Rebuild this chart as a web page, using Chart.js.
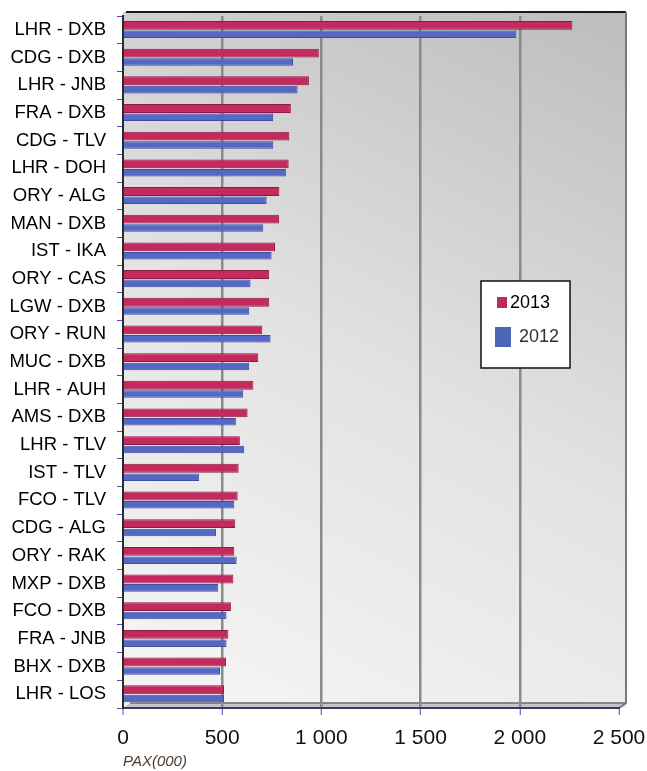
<!DOCTYPE html>
<html>
<head>
<meta charset="utf-8">
<script src="https://cdn.jsdelivr.net/npm/chart.js@4.4.1/dist/chart.umd.min.js"></script>
<style>
  html, body { margin: 0; padding: 0; background: #fff; }
  #wrap { width: 647px; height: 771px; position: relative; }
</style>
</head>
<body>
<div id="wrap"><canvas id="myChart" width="647" height="771"></canvas></div>
<script>
const routes = ['LHR - DXB', 'CDG - DXB', 'LHR - JNB', 'FRA - DXB', 'CDG - TLV', 'LHR - DOH',
  'ORY - ALG', 'MAN - DXB', 'IST - IKA', 'ORY - CAS', 'LGW - DXB', 'ORY - RUN', 'MUC - DXB',
  'LHR - AUH', 'AMS - DXB', 'LHR - TLV', 'IST - TLV', 'FCO - TLV', 'CDG - ALG', 'ORY - RAK',
  'MXP - DXB', 'FCO - DXB', 'FRA - JNB', 'BHX - DXB', 'LHR - LOS'];
const pax2013 = [2265, 987, 937, 846, 838, 835, 788, 786, 766, 737, 737, 702, 682,
  657, 628, 589, 583, 578, 566, 561, 556, 544, 531, 519, 509];
const pax2012 = [1983, 857, 880, 757, 757, 821, 724, 707, 749, 643, 636, 744, 636,
  606, 569, 611, 384, 561, 469, 573, 480, 522, 522, 489, 509];
const xTicks = [0, 500, 1000, 1500, 2000, 2500];

const FONT = "'Liberation Sans', Arial, sans-serif";
const ctx = document.getElementById('myChart').getContext('2d');

// grey 3D-ish back wall behind the bars
const wallPlugin = {
  id: 'wall',
  beforeDraw(chart) {
    const a = chart.chartArea;
    const c = chart.ctx;
    c.save();
    const g = c.createLinearGradient(a.right, a.top, a.left + 150, a.bottom);
    g.addColorStop(0, '#bdbdbd');
    g.addColorStop(0.55, '#e2e2e2');
    g.addColorStop(1, '#f3f3f3');
    c.fillStyle = g;
    c.fillRect(a.left, a.top - 4, a.right - a.left + 7, a.bottom - a.top + 4);
    // floor
    c.fillStyle = '#c6c6c6';
    c.beginPath();
    c.moveTo(a.left, a.bottom);
    c.lineTo(a.right, a.bottom);
    c.lineTo(a.right + 7, a.bottom - 5);
    c.lineTo(a.left + 7, a.bottom - 5);
    c.closePath();
    c.fill();
    c.strokeStyle = '#6a6a6a';
    c.lineWidth = 1.5;
    c.beginPath();
    c.moveTo(a.left + 7, a.bottom - 5);
    c.lineTo(a.right + 7, a.bottom - 5);
    c.stroke();
    // top and right edges
    c.strokeStyle = '#1a1a1a';
    c.lineWidth = 2;
    c.beginPath();
    c.moveTo(a.left + 3, a.top - 4);
    c.lineTo(a.right + 7, a.top - 4);
    c.stroke();
    c.strokeStyle = '#7a7a7a';
    c.beginPath();
    c.moveTo(a.right + 7, a.top - 4);
    c.lineTo(a.right + 7, a.bottom - 5);
    c.lineTo(a.right, a.bottom);
    c.stroke();
    c.restore();
  }
};

// boxed legend sitting inside the plot
const boxLegend = {
  id: 'boxLegend',
  afterDraw(chart) {
    const c = chart.ctx;
    c.save();
    c.fillStyle = '#ffffff';
    c.fillRect(481, 281, 89, 87);
    c.strokeStyle = '#111';
    c.lineWidth = 1.5;
    c.strokeRect(481, 281, 89, 87);
    c.font = '18px ' + FONT;
    c.textBaseline = 'middle';
    c.fillStyle = '#b82a62';
    c.fillRect(497, 297, 10, 11);
    c.fillStyle = '#000';
    c.fillText('2013', 510, 303);
    c.fillStyle = '#4a66b4';
    c.fillRect(495, 327, 16, 20);
    c.fillStyle = '#3a302a';
    c.fillText('2012', 519, 337);
    c.restore();
  }
};

const myChart = new Chart(ctx, {
  type: 'bar',
  data: {
    labels: routes,
    datasets: [{
      label: '2013',
      data: pax2013,
      backgroundColor: '#c42a5e',
      borderColor: '#8c1a44',
      borderWidth: 1,
      categoryPercentage: 0.64,
      barPercentage: 1.0
    }, {
      label: '2012',
      data: pax2012,
      backgroundColor: '#5468c4',
      borderColor: '#3c4ea0',
      borderWidth: 1,
      categoryPercentage: 0.64,
      barPercentage: 0.85
    }]
  },
  options: {
    indexAxis: 'y',
    responsive: false,
    animation: false,
    layout: { padding: { top: 16, right: 28, bottom: 0, left: 0 } },
    plugins: {
      legend: { display: false },
      tooltip: { enabled: false }
    },
    scales: {
      x: {
        min: 0,
        max: 2500,
        afterBuildTicks: (scale) => { scale.ticks = xTicks.map(v => ({ value: v })); },
        afterFit: (scale) => {
          scale.height = 63;
          scale.paddingLeft = 0;
          scale.paddingRight = 0;
        },
        ticks: {
          color: '#111',
          font: { family: FONT, size: 21 },
          padding: 11,
          maxRotation: 0,
          autoSkip: false,
          callback: (v) => v >= 1000 ? Math.floor(v / 1000) + ' ' + String(v % 1000).padStart(3, '0') : String(v)
        },
        grid: {
          color: (c) => c.tick && c.tick.value === 0 ? '#2a2a2a' : (c.tick && c.tick.value === 2500 ? 'rgba(0,0,0,0)' : '#8a8a8a'),
          lineWidth: (c) => c.tick && c.tick.value === 0 ? 2 : 2.5,
          tickColor: '#5a4ab0',
          tickLength: 7,
          tickWidth: 1
        },
        border: { color: '#3a3a66', width: 2 },
        title: {
          display: true,
          text: 'PAX(000)',
          align: 'start',
          color: '#4a3c32',
          font: { family: FONT, size: 15, style: 'italic' },
          padding: { top: 0, bottom: 0 }
        }
      },
      y: {
        afterFit: (scale) => {
          scale.width = 123;
          scale.paddingTop = 0;
          scale.paddingBottom = 0;
        },
        ticks: {
          color: '#000',
          font: { family: FONT, size: 18.5 },
          padding: 11,
          autoSkip: false
        },
        grid: {
          drawOnChartArea: false,
          offset: true,
          tickColor: '#5a4ab0',
          tickLength: 6
        },
        border: { color: '#2a2a2a', width: 2 }
      }
    }
  },
  plugins: [wallPlugin, boxLegend]
});
</script>
</body>
</html>
